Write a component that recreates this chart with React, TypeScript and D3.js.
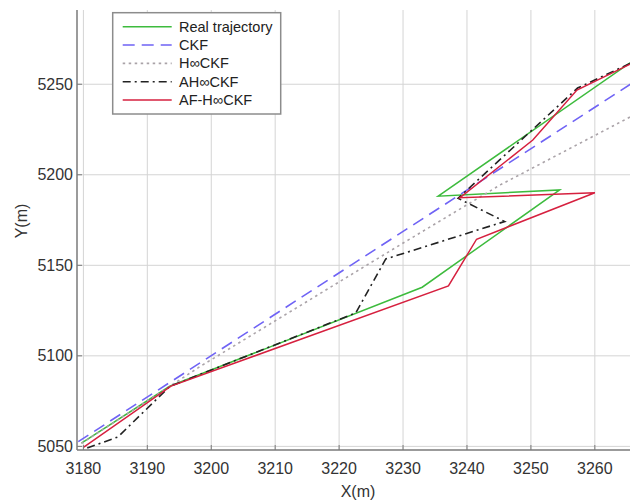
import React from "react";
import * as d3 from "d3";

// ---- data ----
const realX = [3179.7, 3193.5, 3233.0, 3254.5, 3235.5, 3266.0];
const realY = [5051.8, 5083.2, 5137.9, 5191.6, 5188.2, 5263.0];

const ckfX = [3179.2, 3222.0, 3266.0];
const ckfY = [5052.6, 5150.4, 5251.0];

const hckfX = [3179.7, 3193.5, 3198.2, 3229.5, 3245.2, 3266.0];
const hckfY = [5051.7, 5083.1, 5094.0, 5161.2, 5194.4, 5232.8];

const ahckfX = [3180.6, 3185.4, 3193.5, 3222.6, 3227.3, 3245.9, 3238.6, 3257.3, 3266.0];
const ahckfY = [5049.1, 5055.2, 5083.1, 5123.7, 5153.5, 5174.2, 5187.0, 5247.9, 5262.3];

const afhckfX = [3180.0, 3193.7, 3237.1, 3241.5, 3260.0, 3238.9, 3250.3, 3257.2, 3266.0];
const afhckfY = [5049.5, 5083.3, 5138.6, 5164.4, 5190.1, 5187.3, 5219.2, 5246.8, 5261.9];

const xTicks = [3180, 3190, 3200, 3210, 3220, 3230, 3240, 3250, 3260];
const yTicks = [5050, 5100, 5150, 5200, 5250];

const seriesNames = ["Real trajectory", "CKF", "H\u221eCKF", "AH\u221eCKF", "AF-H\u221eCKF"];

type Series = { name: string; xs: number[]; ys: number[]; color: string; dash: string; width: number };

const series: Series[] = [
  { name: seriesNames[0], xs: realX, ys: realY, color: "#3dbb3d", dash: "none", width: 1.5 },
  { name: seriesNames[1], xs: ckfX, ys: ckfY, color: "#6f63f5", dash: "12,7", width: 1.6 },
  { name: seriesNames[2], xs: hckfX, ys: hckfY, color: "#aaa3a8", dash: "2.5,3.5", width: 1.6 },
  { name: seriesNames[3], xs: ahckfX, ys: ahckfY, color: "#222222", dash: "8,4,2,4", width: 1.6 },
  { name: seriesNames[4], xs: afhckfX, ys: afhckfY, color: "#d6203f", dash: "none", width: 1.5 },
];

const W = 630;
const H = 501;
const L = 77;
const R = 630;
const T = 10;
const B = 450;

export default function App() {
  const x = d3.scaleLinear().domain([3179, 3265.5]).range([L, R]);
  const y = d3.scaleLinear().domain([5048, 5291]).range([B, T]);
  const font = "'Liberation Sans', Arial, sans-serif";

  const lineGen = (xs: number[], ys: number[]) =>
    d3
      .line<number>()
      .x((_, i) => x(xs[i]))
      .y((_, i) => y(ys[i]))(xs) || "";

  const legendX = 112.7;
  const legendY = 12.7;
  const legendW = 168;
  const legendH = 101.3;
  const rowY = (i: number) => 26.7 + i * 18.33;

  return (
    <div style={{ position: "fixed", left: 0, top: 0, width: W, height: H, background: "#fff" }}>
      <svg width={W} height={H} style={{ display: "block" }} fontFamily={font}>
        <defs>
          <clipPath id="plotclip">
            <rect x={L} y={T} width={R - L} height={B - T} />
          </clipPath>
        </defs>
        {/* grid */}
        {xTicks.map((t) => (
          <line key={"gx" + t} x1={x(t)} x2={x(t)} y1={T} y2={B} stroke="#d4d4d4" strokeWidth={1} />
        ))}
        {yTicks.map((t) => (
          <line key={"gy" + t} x1={L} x2={R} y1={y(t)} y2={y(t)} stroke="#d4d4d4" strokeWidth={1} />
        ))}
        {/* series */}
        <g clipPath="url(#plotclip)">
          {series.map((s) => (
            <path
              key={s.name}
              d={lineGen(s.xs, s.ys)}
              fill="none"
              stroke={s.color}
              strokeWidth={s.width}
              strokeDasharray={s.dash === "none" ? undefined : s.dash}
              strokeLinejoin="miter"
            />
          ))}
        </g>
        {/* axes */}
        <line x1={L} x2={L} y1={T} y2={B} stroke="#7a7a7a" strokeWidth={1.5} />
        <line x1={L} x2={R} y1={B} y2={B} stroke="#7a7a7a" strokeWidth={1.5} />
        {xTicks.map((t) => (
          <g key={"tx" + t}>
            <line x1={x(t)} x2={x(t)} y1={B} y2={B - 5} stroke="#7a7a7a" strokeWidth={1} />
            <text x={x(t)} y={474} textAnchor="middle" fontSize={16} fill="#333">
              {t}
            </text>
          </g>
        ))}
        {yTicks.map((t) => (
          <g key={"ty" + t}>
            <line x1={L} x2={L + 5} y1={y(t)} y2={y(t)} stroke="#7a7a7a" strokeWidth={1} />
            <text x={73} y={y(t)} dy="0.35em" textAnchor="end" fontSize={16} fill="#333">
              {t}
            </text>
          </g>
        ))}
        <text x={358} y={497} textAnchor="middle" fontSize={16} fill="#333">
          X(m)
        </text>
        <text
          transform={`translate(21,221) rotate(-90)`}
          textAnchor="middle"
          dy="0.35em"
          fontSize={16}
          fill="#333"
        >
          Y(m)
        </text>
        {/* legend */}
        <rect x={legendX} y={legendY} width={legendW} height={legendH} fill="#fff" stroke="#8c8c8c" strokeWidth={1.5} />
        {series.map((s, i) => (
          <g key={"lg" + s.name}>
            <line
              x1={122.7}
              x2={171.7}
              y1={rowY(i)}
              y2={rowY(i)}
              stroke={s.color}
              strokeWidth={s.width}
              strokeDasharray={s.dash === "none" ? undefined : s.dash}
            />
            <text x={179} y={rowY(i)} dy="0.35em" fontSize={14.5} fill="#222">
              {s.name}
            </text>
          </g>
        ))}
      </svg>
    </div>
  );
}
